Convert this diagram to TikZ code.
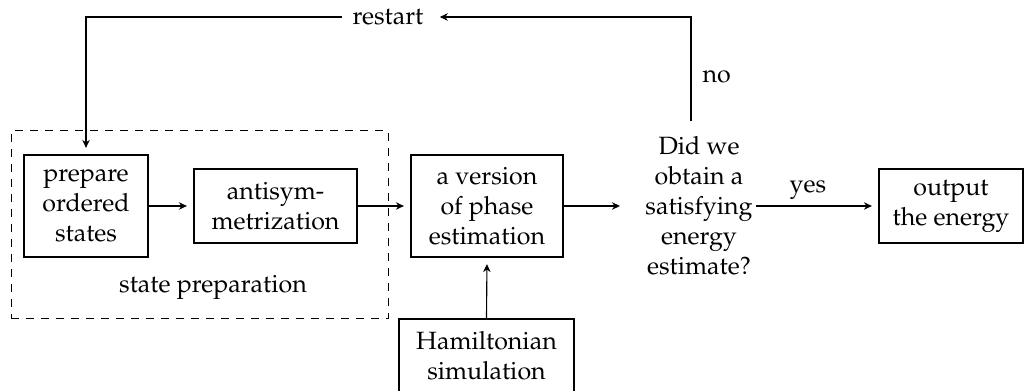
\documentclass[tikz,border=0pt]{standalone}
\usepackage[T1]{fontenc}
\usepackage{mathpazo}
\usetikzlibrary{arrows.meta}
% one drawing unit = 0.4pt
\newcommand{\pxu}{0.4pt}
\tikzset{
  stagebox/.style={draw, line width=0.9pt, align=center, inner sep=0pt},
  plaintext/.style={align=center, inner sep=0pt},
  flow/.style={-{Stealth[length=3.2pt,width=3pt]}, line width=0.45pt, shorten >=2.4pt},
  groupbox/.style={draw, dashed, line width=0.4pt, inner sep=0pt}
}
\begin{document}
\begin{tikzpicture}[x=\pxu, y=-\pxu]
\useasboundingbox (0,0) rectangle (1026,391);

% state-preparation group
\node[groupbox, minimum width=377*\pxu, minimum height=188*\pxu] (group) at (199.5,225) {};
\node[plaintext, anchor=base] (grouplabel) at (213,293) {state preparation};

% stages
\node[stagebox, minimum width=124*\pxu, minimum height=102*\pxu] (prep) at (86,206) {prepare\\ordered\\states};
\node[stagebox, minimum width=163*\pxu, minimum height=74*\pxu] (anti) at (275.5,206) {antisym-\\metrization};
\node[stagebox, minimum width=152*\pxu, minimum height=102*\pxu] (phase) at (487,206) {a version\\of phase\\estimation};
\node[stagebox, minimum width=175*\pxu, minimum height=74*\pxu] (ham) at (486.5,356) {Hamiltonian\\simulation};
\node[plaintext] (dec) at (699,206) {Did we\\obtain a\\satisfying\\energy\\estimate?};
\node[stagebox, minimum width=144*\pxu, minimum height=74*\pxu] (out) at (951,206) {output\\the energy};

% loop-back label and corners
\node[plaintext, inner sep=4pt] (restart) at (388,17) {restart};
\coordinate (turnR) at (691,17);
\coordinate (turnL) at (86,17);

% connectors
\draw[flow] (prep.east) -- (anti.west);
\draw[flow] (anti.east) -- (phase.west);
\draw[flow] (ham.north) -- (phase.south);
\draw[flow, shorten >=10pt] (phase.east) -- (dec.west);
\draw[flow, shorten <=1.2pt] (dec.east) -- node[plaintext, above=2.4pt, pos=0.44] (yes) {yes} (out.west);
\draw[flow, shorten <=6pt] (dec.north -| turnR) -- node[plaintext, right=4.4pt] (no) {no} (turnR) -- (restart.east);
\draw[flow] (restart.west) -- (turnL) -- (prep.north);
\end{tikzpicture}
\end{document}
